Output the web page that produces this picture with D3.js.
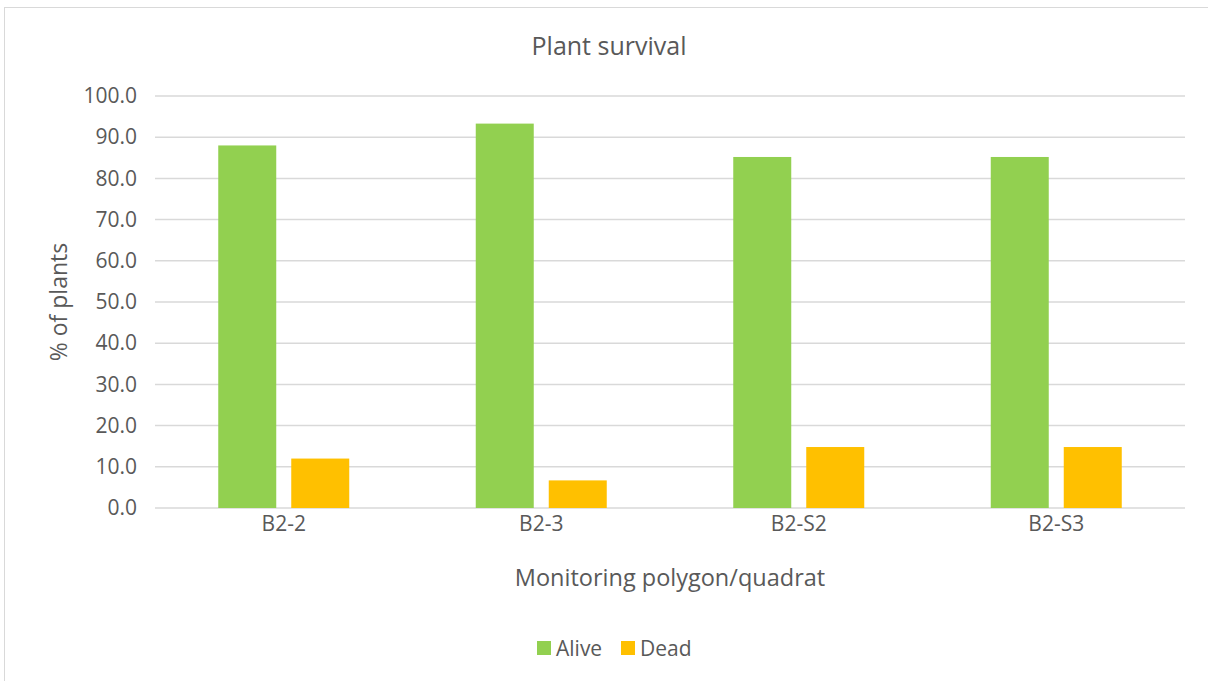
<!DOCTYPE html>
<html>
<head>
    <title>Plant survival</title>
    <script src="https://d3js.org/d3.v7.min.js"></script>
    <style>
        body { margin: 0; background: #fff; }
        text { font-family: "Open Sans", sans-serif; fill: #595959; }
    </style>
</head>
<body>
    <svg width="1208" height="681"></svg>
    <script>
        // Data
        const categories = ["B2-2", "B2-3", "B2-S2", "B2-S3"];
        const seriesNames = ["Alive", "Dead"];
        const alive = [88.0, 93.3, 85.2, 85.2];
        const dead = [12.0, 6.7, 14.8, 14.8];
        const yTicks = [0, 10, 20, 30, 40, 50, 60, 70, 80, 90, 100];
        const colors = ["#92d050", "#ffc000"];

        const margin = {top: 96, right: 23, bottom: 173, left: 155},
              width = 1208 - margin.left - margin.right,
              height = 681 - margin.top - margin.bottom;

        const svg = d3.select("svg");

        // chart border
        svg.append("rect")
            .attr("x", 4.5).attr("y", 7.5)
            .attr("width", 1210).attr("height", 690)
            .attr("fill", "none")
            .attr("stroke", "#d9d9d9");

        const g = svg.append("g")
            .attr("transform", `translate(${margin.left},${margin.top})`);

        const x0 = d3.scaleBand()
            .domain(categories)
            .range([0, width]);

        // bars 58px wide, 15px apart, centred in each band
        const x1 = d3.scaleBand()
            .domain(seriesNames)
            .range([x0.bandwidth() / 2 - 65.5, x0.bandwidth() / 2 + 65.5])
            .paddingInner(15 / 73);

        const y = d3.scaleLinear()
            .domain([0, 100])
            .range([height, 0]);

        // gridlines
        g.append("g")
            .selectAll("line")
            .data(yTicks)
            .join("line")
            .attr("x1", 0).attr("x2", width)
            .attr("y1", d => y(d)).attr("y2", d => y(d))
            .attr("stroke", "#d9d9d9")
            .attr("stroke-width", 1.5);

        // y axis labels
        const yAxis = g.append("g")
            .call(d3.axisLeft(y).tickValues(yTicks).tickFormat(d3.format(".1f")).tickSize(0).tickPadding(18));
        yAxis.select(".domain").remove();
        yAxis.selectAll("text")
            .attr("fill", "#595959")
            .style("font-size", "21px")
            .style("font-family", '"Open Sans", sans-serif');

        // bars
        const groups = g.selectAll(".cat")
            .data(categories)
            .join("g")
            .attr("class", "cat")
            .attr("transform", d => `translate(${x0(d)},0)`);

        groups.selectAll("rect")
            .data((d, i) => [
                {key: "Alive", value: alive[i]},
                {key: "Dead", value: dead[i]}
            ])
            .join("rect")
            .attr("x", d => x1(d.key))
            .attr("y", d => y(d.value))
            .attr("width", x1.bandwidth())
            .attr("height", d => height - y(d.value))
            .attr("fill", d => colors[seriesNames.indexOf(d.key)]);

        // x axis labels
        const xAxis = g.append("g")
            .attr("transform", `translate(0,${height})`)
            .call(d3.axisBottom(x0).tickSize(0).tickPadding(8));
        xAxis.select(".domain").remove();
        xAxis.selectAll("text")
            .attr("fill", "#595959")
            .style("font-size", "21px")
            .style("font-family", '"Open Sans", sans-serif');

        // titles
        svg.append("text")
            .attr("x", 609).attr("y", 55)
            .attr("text-anchor", "middle")
            .style("font-size", "25px")
            .text("Plant survival");

        svg.append("text")
            .attr("x", 670).attr("y", 586)
            .attr("text-anchor", "middle")
            .style("font-size", "23.5px")
            .text("Monitoring polygon/quadrat");

        svg.append("text")
            .attr("transform", "translate(67,302) rotate(-90)")
            .attr("text-anchor", "middle")
            .style("font-size", "23px")
            .text("% of plants");

        // legend
        const legendX = [537, 621];
        const legend = svg.selectAll(".legend")
            .data(seriesNames)
            .join("g")
            .attr("class", "legend")
            .attr("transform", (d, i) => `translate(${legendX[i]},641)`);
        legend.append("rect")
            .attr("width", 14).attr("height", 14)
            .attr("fill", (d, i) => colors[i]);
        legend.append("text")
            .attr("x", 19).attr("y", 15)
            .style("font-size", "21px")
            .text(d => d);
    </script>
</body>
</html>
